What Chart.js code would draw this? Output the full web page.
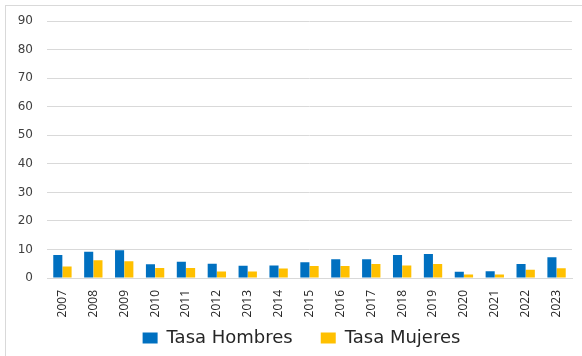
<!DOCTYPE html>
<html>
<head>
<meta charset="utf-8">
<script src="https://cdn.jsdelivr.net/npm/chart.js@4/dist/chart.umd.min.js"></script>
<style>
  body { margin: 0; background: #fff; }
  #wrap { position: relative; width: 582px; height: 356px; }
  #frame { position: absolute; left: 5px; top: 5px; width: 590px; height: 360px; border: 1px solid #d9d9d9; }
  canvas { position: absolute; left: 0; top: 0; }
</style>
</head>
<body>
<div id="wrap">
  <div id="frame"></div>
  <canvas id="tasaChart" width="582" height="356"></canvas>
</div>
<script>
// rates per year
const years = ['2007', '2008', '2009', '2010', '2011', '2012', '2013', '2014', '2015',
               '2016', '2017', '2018', '2019', '2020', '2021', '2022', '2023'];
const tasaHombres = [8.1, 9.2, 9.7, 4.8, 5.7, 5.0, 4.3, 4.4, 5.5, 6.6, 6.6, 8.1, 8.4, 2.2, 2.4, 4.9, 7.3];
const tasaMujeres = [4.0, 6.2, 5.9, 3.5, 3.5, 2.3, 2.3, 3.3, 4.2, 4.2, 4.9, 4.4, 4.9, 1.2, 1.2, 2.9, 3.4];
const yTicks = [0, 10, 20, 30, 40, 50, 60, 70, 80, 90];

const textColor = '#404040';

// fixed legend height, then nudge it right/up like the original
const legendTweak = {
    id: 'legendTweak',
    beforeInit(chart) {
        const fit = chart.legend.fit;
        chart.legend.fit = function() {
            fit.bind(chart.legend)();
            this.height = 34;
        };
    },
    afterLayout(chart) {
        chart.legend.left += 12;
        chart.legend.right += 12;
        chart.legend.top -= 17;
    }
};

const ctx = document.getElementById('tasaChart').getContext('2d');
const tasaChart = new Chart(ctx, {
    type: 'bar',
    data: {
        labels: years,
        datasets: [
            {
                label: 'Tasa Hombres',
                data: tasaHombres,
                backgroundColor: '#0070C0',
                categoryPercentage: 0.6,
                barPercentage: 0.98
            },
            {
                label: 'Tasa Mujeres',
                data: tasaMujeres,
                backgroundColor: '#FFC000',
                categoryPercentage: 0.6,
                barPercentage: 0.98
            }
        ]
    },
    plugins: [legendTweak],
    options: {
        responsive: false,
        animation: false,
        layout: {
            padding: { left: 7, right: 10, top: 14, bottom: 4 }
        },
        plugins: {
            legend: {
                position: 'bottom',
                labels: {
                    color: '#262626',
                    font: { family: '"DejaVu Sans"', size: 18 },
                    boxWidth: 15,
                    boxHeight: 11,
                    padding: 28
                }
            },
            tooltip: { enabled: false }
        },
        scales: {
            y: {
                min: 0,
                max: 90,
                afterBuildTicks: function(scale) {
                    scale.ticks = yTicks.map(v => ({ value: v }));
                },
                afterFit: function(scale) {
                    scale.width = 40;
                },
                border: { display: false },
                grid: {
                    color: '#d9d9d9',
                    lineWidth: 1,
                    drawTicks: false
                },
                ticks: {
                    color: textColor,
                    font: { family: '"DejaVu Sans"', size: 12 },
                    padding: 14
                }
            },
            x: {
                afterFit: function(scale) {
                    scale.height = 40;
                },
                border: { display: true, color: '#d9d9d9', width: 1 },
                grid: { display: false },
                ticks: {
                    color: '#262626',
                    font: { family: '"Open Sans"', size: 12 },
                    maxRotation: 90,
                    minRotation: 90,
                    padding: 4
                }
            }
        }
    }
});
</script>
</body>
</html>
